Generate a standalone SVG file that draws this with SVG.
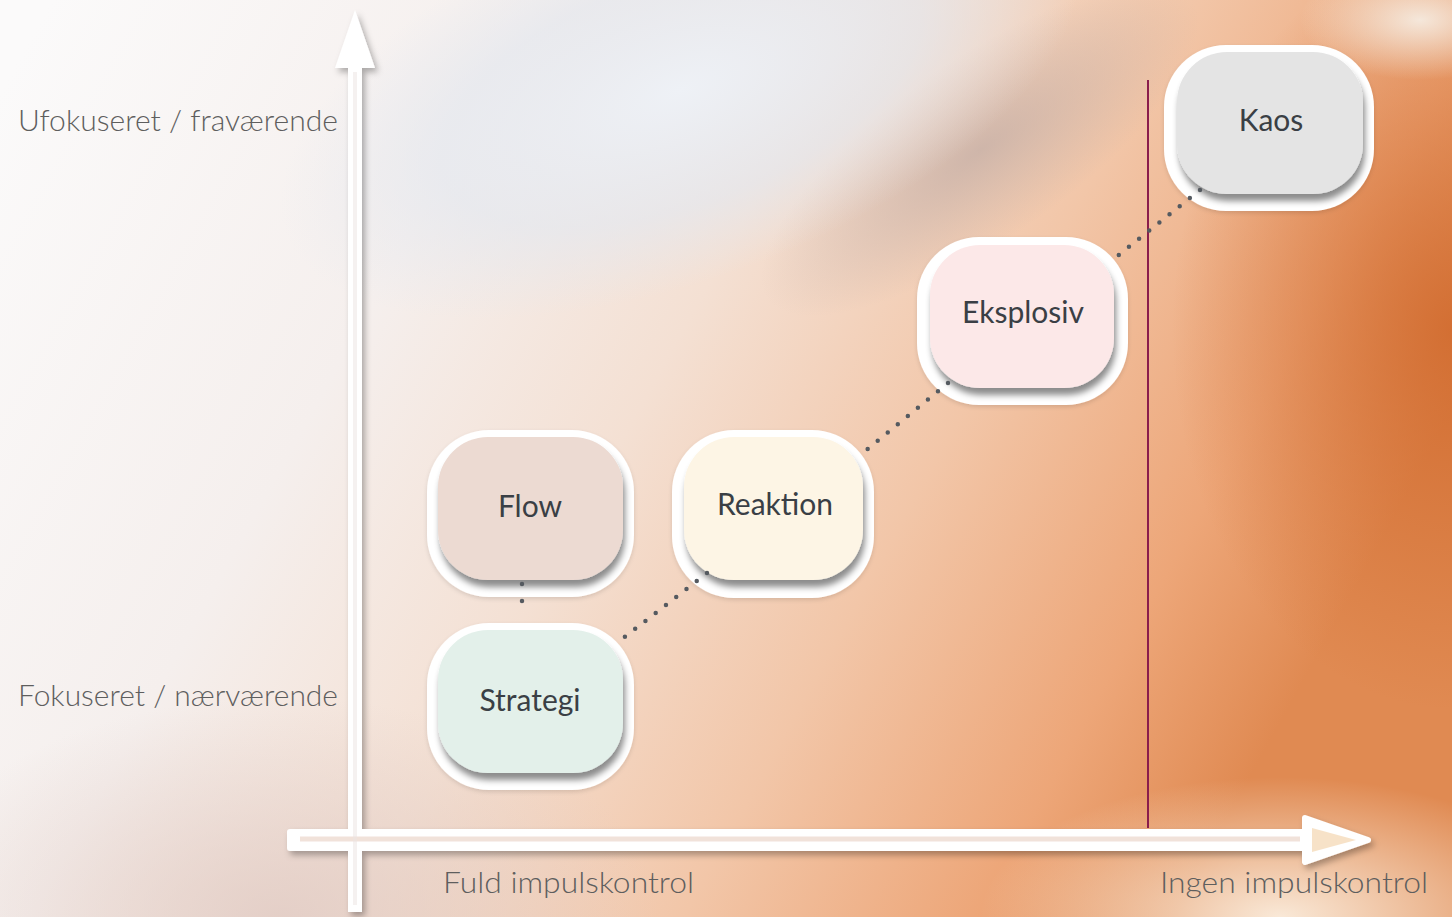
<svg xmlns="http://www.w3.org/2000/svg" width="1452" height="917" viewBox="0 0 1452 917">
<defs>
<linearGradient id="bgBase" x1="0" y1="0.1" x2="1" y2="0.45">
<stop offset="0" stop-color="#fbfafa"/>
<stop offset="0.3" stop-color="#f5efed"/>
<stop offset="0.5" stop-color="#f4e0d3"/>
<stop offset="0.7" stop-color="#f2c6a8"/>
<stop offset="0.88" stop-color="#eda678"/>
<stop offset="1" stop-color="#e08a52"/>
</linearGradient>
<radialGradient id="bgWhite" cx="150" cy="380" r="1" gradientUnits="userSpaceOnUse" gradientTransform="translate(150 380) scale(420 520)">
<stop offset="0" stop-color="#ffffff" stop-opacity="1"/>
<stop offset="0.6" stop-color="#ffffff" stop-opacity="0.75"/>
<stop offset="1" stop-color="#ffffff" stop-opacity="0"/>
</radialGradient>
<radialGradient id="bgBlue" cx="0" cy="0" r="1" gradientUnits="userSpaceOnUse" gradientTransform="translate(680 90) rotate(-20) scale(420 190)">
<stop offset="0" stop-color="#eef1f6" stop-opacity="1"/>
<stop offset="0.6" stop-color="#e4e8ef" stop-opacity="0.7"/>
<stop offset="1" stop-color="#e4e8ef" stop-opacity="0"/>
</radialGradient>
<radialGradient id="bgGray" cx="0" cy="0" r="1" gradientUnits="userSpaceOnUse" gradientTransform="translate(980 150) rotate(-35) scale(260 90)">
<stop offset="0" stop-color="#bfaaa3" stop-opacity="0.7"/>
<stop offset="1" stop-color="#bfaaa3" stop-opacity="0"/>
</radialGradient>
<radialGradient id="bgOrange" cx="0" cy="0" r="1" gradientUnits="userSpaceOnUse" gradientTransform="translate(1452 330) scale(280 380)">
<stop offset="0" stop-color="#d0692c" stop-opacity="0.85"/>
<stop offset="1" stop-color="#d0692c" stop-opacity="0"/>
</radialGradient>
<radialGradient id="bgLight" cx="0" cy="0" r="1" gradientUnits="userSpaceOnUse" gradientTransform="translate(1280 917) scale(300 140)">
<stop offset="0" stop-color="#fcf3e6" stop-opacity="0.9"/>
<stop offset="1" stop-color="#fcf3e6" stop-opacity="0"/>
</radialGradient>
<radialGradient id="bgBottomLeft" cx="0" cy="0" r="1" gradientUnits="userSpaceOnUse" gradientTransform="translate(280 917) scale(380 220)">
<stop offset="0" stop-color="#e0cac3" stop-opacity="0.8"/>
<stop offset="1" stop-color="#e0cac3" stop-opacity="0"/>
</radialGradient>
<radialGradient id="bgTopRight" cx="0" cy="0" r="1" gradientUnits="userSpaceOnUse" gradientTransform="translate(1420 20) scale(120 60)">
<stop offset="0" stop-color="#f6efe6" stop-opacity="0.9"/>
<stop offset="1" stop-color="#f6efe6" stop-opacity="0"/>
</radialGradient>
<filter id="halo" x="-20%" y="-20%" width="140%" height="140%">
<feDropShadow dx="0" dy="2" stdDeviation="2" flood-color="#000" flood-opacity="0.12"/>
</filter>
<filter id="inner" x="-20%" y="-20%" width="140%" height="140%">
<feDropShadow dx="2" dy="7" stdDeviation="3" flood-color="#000" flood-opacity="0.45"/>
</filter>
<filter id="axisShadow" x="-5%" y="-5%" width="110%" height="110%">
<feDropShadow dx="3" dy="4" stdDeviation="3" flood-color="#000" flood-opacity="0.3"/>
</filter>
<style>
.halo{fill:#ffffff;filter:url(#halo)}
.box{stroke:none;filter:url(#inner)}
.lbl{font-family:Lato,"Open Sans","Liberation Sans",sans-serif;font-size:30px;fill:#3a3f45;text-anchor:middle}
.axl{font-family:Lato,"Open Sans","Liberation Sans",sans-serif;font-size:29px;font-weight:300;fill:#5e5e5e}
.dots{fill:none;stroke:#555a60;stroke-width:4.5;stroke-linecap:round;stroke-dasharray:0 13}
</style>
</defs>

<g id="background">
<rect x="0" y="0" width="1452" height="917" fill="url(#bgBase)"/>
<rect x="0" y="0" width="1452" height="917" fill="url(#bgOrange)"/>
<rect x="0" y="0" width="1452" height="917" fill="url(#bgGray)"/>
<rect x="0" y="0" width="1452" height="917" fill="url(#bgBlue)"/>
<rect x="0" y="0" width="1452" height="917" fill="url(#bgLight)"/>
<rect x="0" y="0" width="1452" height="917" fill="url(#bgTopRight)"/>
<rect x="0" y="0" width="1452" height="917" fill="url(#bgBottomLeft)"/>
<rect x="0" y="0" width="1452" height="917" fill="url(#bgWhite)"/>
</g>

<g id="threshold-line">
<line x1="1148" y1="80" x2="1148" y2="828" stroke="#8a1d4c" stroke-width="2"/>
</g>

<g id="axes" filter="url(#axisShadow)">
<path d="M355 10 L375 68 L362 68 L362 912 L348 912 L348 68 L335 68 Z" fill="#ffffff"/>
<path d="M290 832 L1305 832 L1305 818 L1368 840 L1305 862 L1305 848 L290 848 Z" fill="#ffffff" stroke="#ffffff" stroke-width="6" stroke-linejoin="round"/>
<line x1="300" y1="839" x2="1300" y2="839" stroke="#e8cfc3" stroke-width="5" opacity="0.6"/>
<line x1="355" y1="72" x2="355" y2="905" stroke="#ece4e2" stroke-width="4" opacity="0.5"/>
<path d="M1312 828 L1356 840 L1312 852 Z" fill="#f3d6b0" opacity="0.7"/>
</g>

<g id="node-flow">
<rect class="halo" x="427" y="430" width="207" height="167" rx="62"/>
<rect class="box" x="438" y="437" width="185" height="143" rx="50" fill="#ecdad2"/>
<text class="lbl" x="530" y="517">Flow</text>
</g>

<g id="node-strategi">
<rect class="halo" x="427" y="623" width="207" height="167" rx="62"/>
<rect class="box" x="438" y="630" width="185" height="143" rx="50" fill="#e3f0ea"/>
<text class="lbl" x="530" y="711">Strategi</text>
</g>

<g id="node-reaktion">
<rect class="halo" x="672" y="430" width="202" height="168" rx="62"/>
<rect class="box" x="684" y="437" width="179" height="143" rx="50" fill="#fdf5e5"/>
<text class="lbl" x="775" y="515">Reaktion</text>
</g>

<g id="node-eksplosiv">
<rect class="halo" x="917" y="237" width="211" height="168" rx="62"/>
<rect class="box" x="930" y="245" width="184" height="143" rx="50" fill="#fce8e8"/>
<text class="lbl" x="1023" y="323">Eksplosiv</text>
</g>

<g id="node-kaos">
<rect class="halo" x="1164" y="45" width="210" height="166" rx="62"/>
<rect class="box" x="1177" y="52" width="186" height="142" rx="50" fill="#e4e4e4"/>
<text class="lbl" x="1271" y="131">Kaos</text>
</g>

<g id="connectors">
<line class="dots" x1="522" y1="584" x2="522" y2="618" style="stroke-dasharray:0 17"/>
<line class="dots" x1="707" y1="573" x2="617" y2="643"/>
<line class="dots" x1="948" y1="383" x2="858" y2="457"/>
<line class="dots" x1="1200" y1="190" x2="1110" y2="262"/>
</g>

<g id="axis-labels">
<text class="axl" x="18" y="131" textLength="320" lengthAdjust="spacingAndGlyphs">Ufokuseret / fraværende</text>
<text class="axl" x="18" y="706" textLength="320" lengthAdjust="spacingAndGlyphs">Fokuseret / nærværende</text>
<text class="axl" x="443" y="893" textLength="251" lengthAdjust="spacingAndGlyphs">Fuld impulskontrol</text>
<text class="axl" x="1160" y="893" textLength="268" lengthAdjust="spacingAndGlyphs">Ingen impulskontrol</text>
</g>
</svg>
